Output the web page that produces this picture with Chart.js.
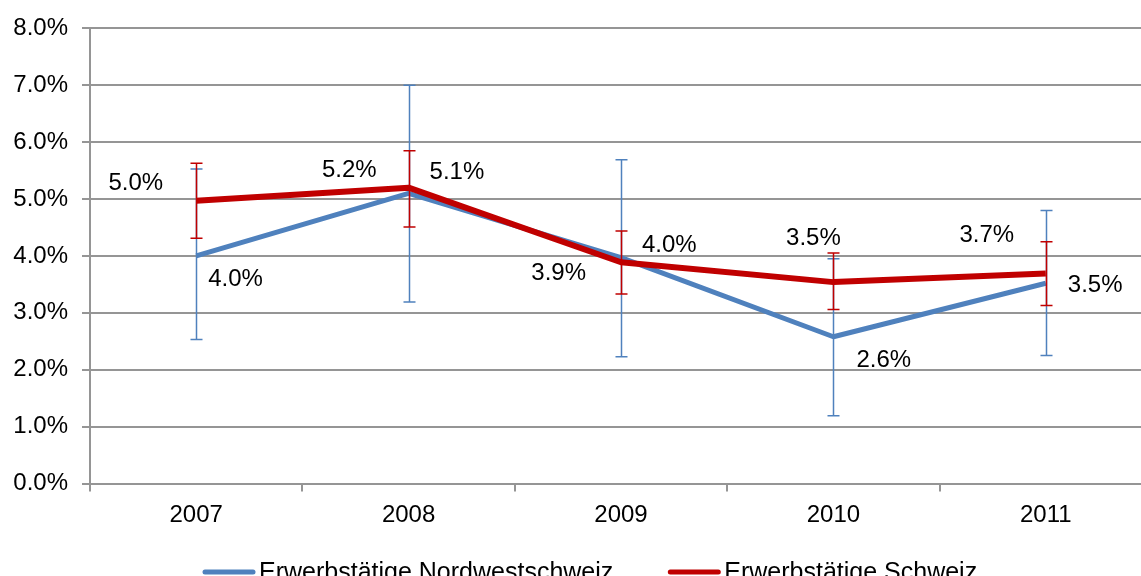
<!DOCTYPE html>
<html>
<head>
<meta charset="utf-8">
<script src="https://cdn.jsdelivr.net/npm/chart.js@4.4.0/dist/chart.umd.min.js"></script>
<style>
  html, body { margin: 0; padding: 0; background: #fff; overflow: hidden; }
  #wrap { width: 1160px; height: 576px; }
</style>
</head>
<body>
<div id="wrap"><canvas id="chart" width="1160" height="576"></canvas></div>
<script>
// ---- data (percent) ----
const years        = ["2007", "2008", "2009", "2010", "2011"];
const nordwest     = [4.0, 5.1, 3.97, 2.58, 3.52];
const nordwestLow  = [2.53, 3.19, 2.23, 1.19, 2.25];
const nordwestHigh = [5.53, 7.0, 5.69, 3.95, 4.8];
const schweiz      = [4.97, 5.2, 3.89, 3.54, 3.69];
const schweizLow   = [4.31, 4.51, 3.33, 3.06, 3.13];
const schweizHigh  = [5.63, 5.85, 4.44, 4.05, 4.25];
const yMin = 0, yMax = 8, yStep = 1;

const FONT = "'Liberation Sans', Arial, sans-serif";
const BLUE = "#4f81bd";
const RED  = "#c00000";
const GRID = "#959595";

// label placement per point: [dx, dy, align]
const blueLabelPos = [[12, 23, "left"], [21, -21, "left"], [21, -12, "left"], [23, 24, "left"], [22, 2, "left"]];
const redLabelPos  = [[-33, -17, "right"], [-32, -17, "right"], [-35, 11, "right"], [-20, -44, "center"], [-59, -38, "center"]];

/* error bars, drawn under each line */
const errorBars = {
  id: "errorBars",
  beforeDatasetDraw(chart, args) {
    const ds = chart.data.datasets[args.index];
    if (!ds.errLow) return;
    const y = chart.scales.y;
    const ctx = chart.ctx;
    ctx.save();
    ctx.strokeStyle = ds.borderColor;
    ctx.lineWidth = 1.5;
    args.meta.data.forEach((pt, i) => {
      const x = Math.round(pt.x) + 0.5;
      const yl = y.getPixelForValue(ds.errLow[i]);
      const yh = y.getPixelForValue(ds.errHigh[i]);
      ctx.beginPath();
      ctx.moveTo(x, yl); ctx.lineTo(x, yh);
      ctx.moveTo(x - 6, yl); ctx.lineTo(x + 6, yl);
      ctx.moveTo(x - 6, yh); ctx.lineTo(x + 6, yh);
      ctx.stroke();
    });
    ctx.restore();
  }
};

/* value labels */
const valueLabels = {
  id: "valueLabels",
  afterDatasetsDraw(chart) {
    const ctx = chart.ctx;
    ctx.save();
    ctx.font = "24px " + FONT;
    ctx.fillStyle = "#000";
    ctx.textBaseline = "middle";
    chart.data.datasets.forEach((ds, di) => {
      const meta = chart.getDatasetMeta(di);
      meta.data.forEach((pt, i) => {
        const [dx, dy, align] = ds.labelPos[i];
        ctx.textAlign = align;
        ctx.fillText(ds.data[i].toFixed(1) + "%", pt.x + dx, pt.y + dy);
      });
    });
    ctx.restore();
  }
};

/* legend at the bottom (partly cut by the window) */
const bottomLegend = {
  id: "bottomLegend",
  afterDraw(chart) {
    const ctx = chart.ctx;
    ctx.save();
    ctx.font = "25px " + FONT;
    ctx.textBaseline = "alphabetic";
    ctx.textAlign = "left";
    const lineY = 572, baseY = 580;
    let x = 203;
    chart.data.datasets.slice().sort((a, b) => b.order - a.order).forEach((ds) => {
      ctx.strokeStyle = ds.borderColor;
      ctx.lineWidth = 5;
      ctx.lineCap = "round";
      ctx.beginPath();
      ctx.moveTo(x + 2, lineY); ctx.lineTo(x + 50, lineY);
      ctx.stroke();
      ctx.fillStyle = "#000";
      ctx.fillText(ds.label, x + 56, baseY);
      x += 56 + ctx.measureText(ds.label).width + 55;
    });
    ctx.restore();
  }
};

new Chart(document.getElementById("chart"), {
  type: "line",
  data: {
    labels: years,
    datasets: [
      {
        label: "Erwerbstätige Nordwestschweiz",
        data: nordwest,
        errLow: nordwestLow,
        errHigh: nordwestHigh,
        labelPos: blueLabelPos,
        borderColor: BLUE,
        borderWidth: 5,
        borderJoinStyle: "round",
        pointRadius: 0,
        tension: 0,
        order: 1
      },
      {
        label: "Erwerbstätige Schweiz",
        data: schweiz,
        errLow: schweizLow,
        errHigh: schweizHigh,
        labelPos: redLabelPos,
        borderColor: RED,
        borderWidth: 6,
        borderJoinStyle: "round",
        pointRadius: 0,
        tension: 0,
        order: 0
      }
    ]
  },
  options: {
    responsive: false,
    animation: false,
    layout: { padding: { top: 26, right: 8, bottom: 0, left: 0 } },
    plugins: { legend: { display: false }, tooltip: { enabled: false } },
    scales: {
      x: {
        offset: true,
        grid: { offset: true, drawOnChartArea: false, drawTicks: true, tickLength: 8, color: GRID, lineWidth: 2 },
        border: { color: GRID, width: 2 },
        ticks: { color: "#000", font: { size: 24, family: FONT }, padding: 9, maxRotation: 0 },
        afterFit(s) { s.height = 92.5; }
      },
      y: {
        min: yMin,
        max: yMax,
        grid: { color: GRID, lineWidth: 2, tickLength: 8 },
        border: { color: GRID, width: 2 },
        ticks: {
          stepSize: yStep,
          color: "#000",
          font: { size: 24, family: FONT },
          padding: 14,
          callback: (v) => v.toFixed(1) + "%"
        },
        afterFit(s) { s.width = 90; }
      }
    }
  },
  plugins: [errorBars, valueLabels, bottomLegend]
});
</script>
</body>
</html>
